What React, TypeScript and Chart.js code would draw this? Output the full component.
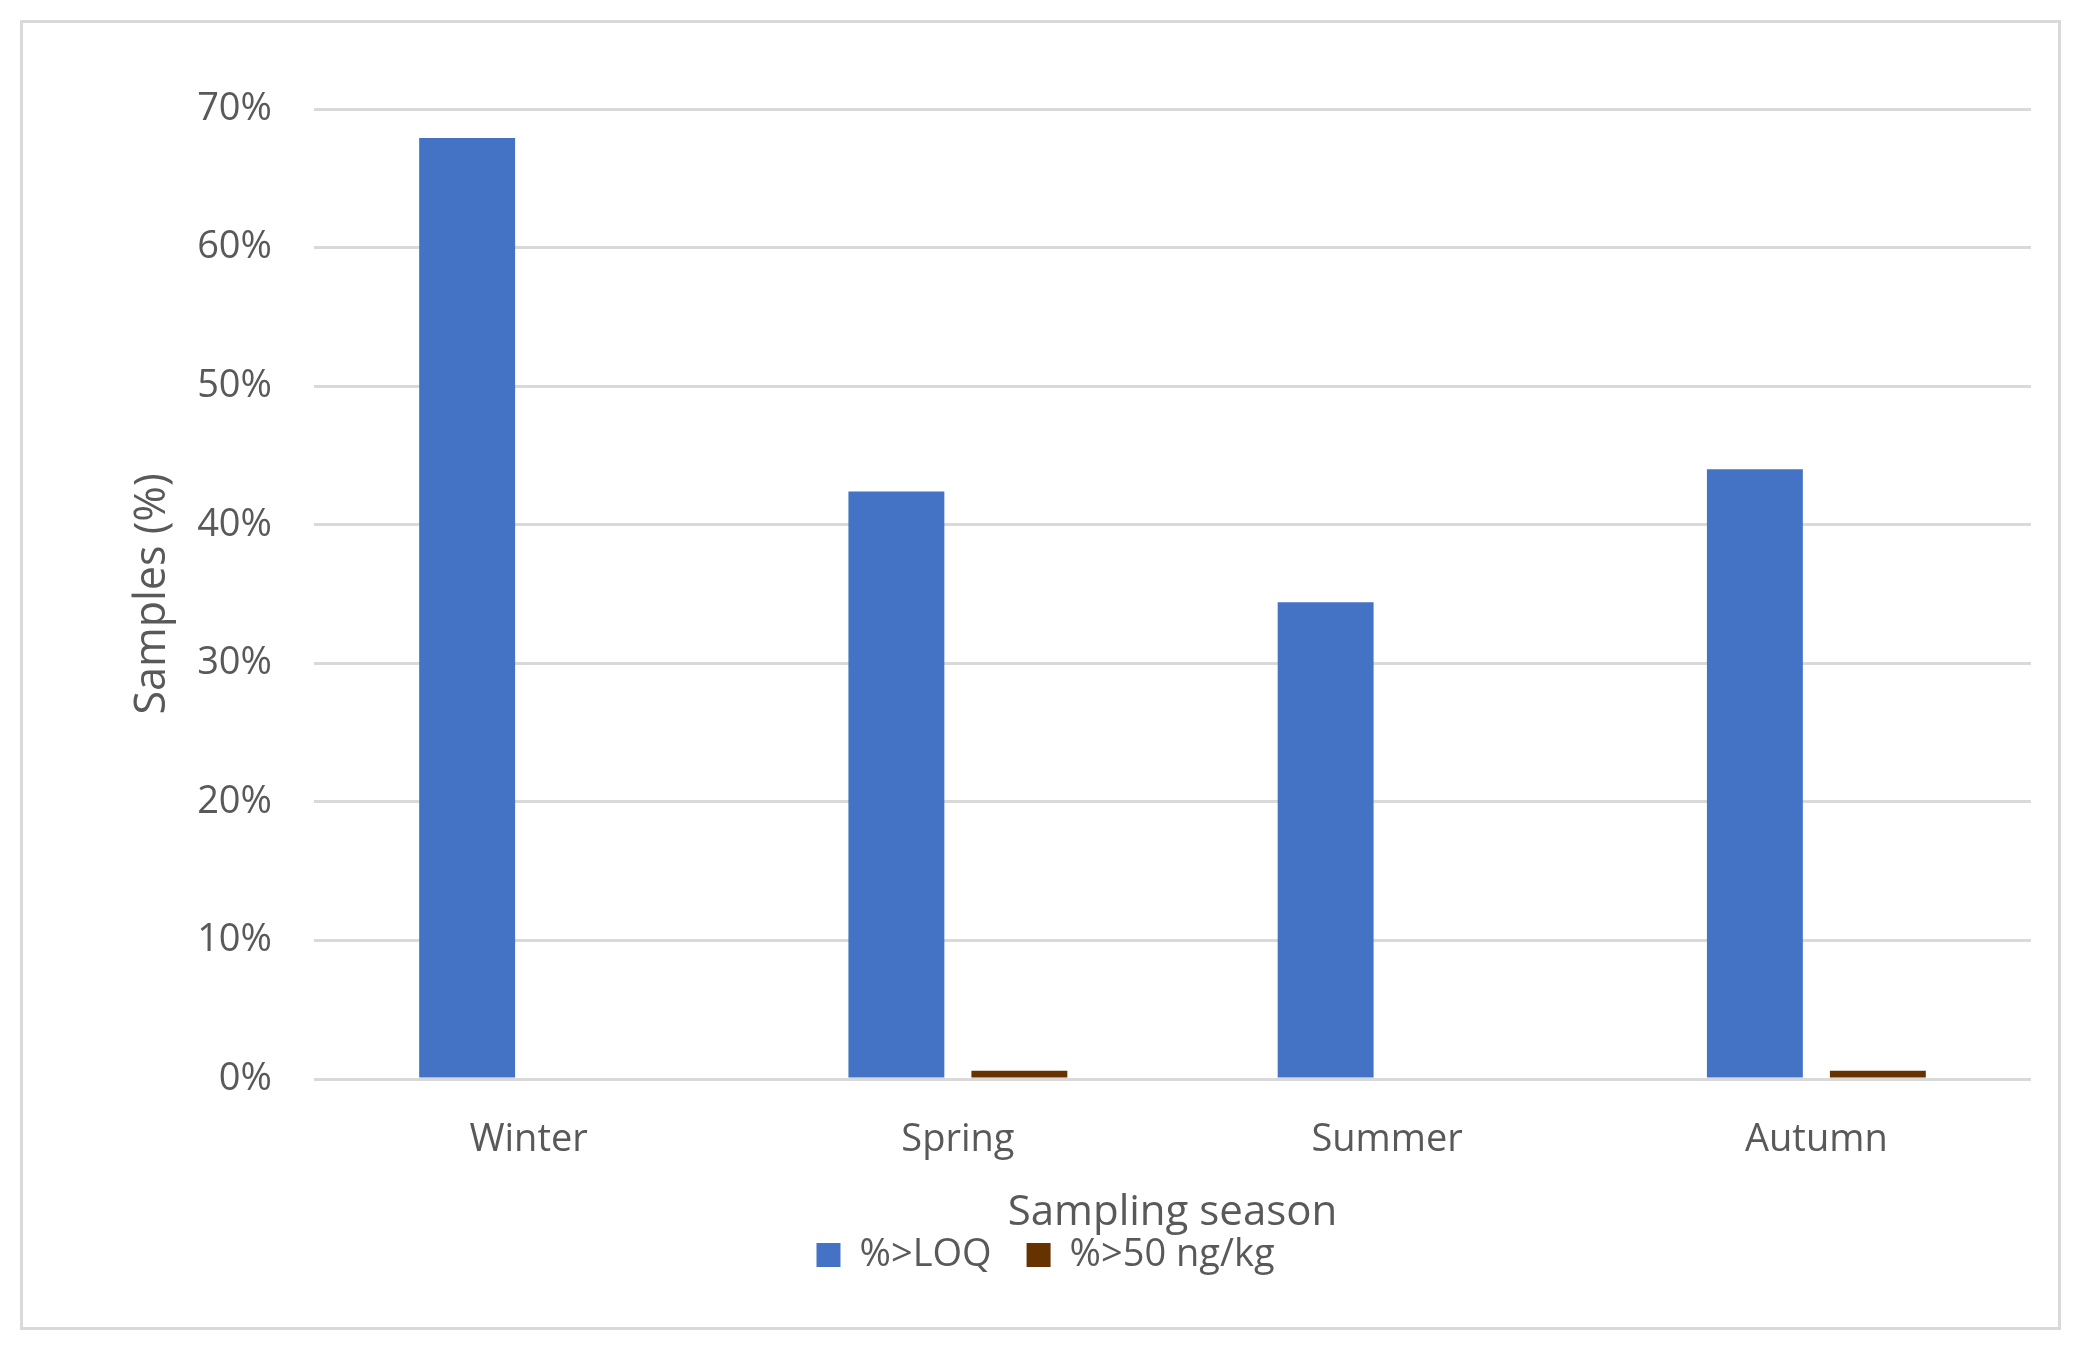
import React, { useEffect, useRef } from "react";
import { Chart, registerables } from "chart.js";

Chart.register(...registerables);

const categories = ["Winter", "Spring", "Summer", "Autumn"];
const seriesNames = ["%>LOQ", "%>50 ng/kg"];
const loqValues = [67.9, 42.4, 34.4, 44.0];
const over50Values = [0, 0.6, 0, 0.6];
const seriesColors = ["#4472C4", "#663300"];
const yTickMax = 70;
const yTickStep = 10;
const xAxisTitle = "Sampling season";
const yAxisTitle = "Samples (%)";

const TEXT = "#595959";
const GRID = "#D9D9D9";
const FONT = "'Open Sans', 'Noto Sans', sans-serif";

export default function App() {
  const ref = useRef<HTMLCanvasElement | null>(null);

  useEffect(() => {
    document.body.style.margin = "0";
    const canvas = ref.current;
    if (!canvas) return;
    const chart = new Chart(canvas, {
      type: "bar",
      data: {
        labels: categories,
        datasets: [
          {
            label: seriesNames[0],
            data: loqValues,
            backgroundColor: seriesColors[0],
            borderWidth: 0,
            categoryPercentage: 0.573,
            barPercentage: 0.78,
          },
          {
            label: seriesNames[1],
            data: over50Values,
            backgroundColor: seriesColors[1],
            borderWidth: 0,
            categoryPercentage: 0.573,
            barPercentage: 0.78,
          },
        ],
      },
      options: {
        responsive: false,
        devicePixelRatio: 1,
        animation: false,
        layout: { padding: { left: 60, right: 49, top: 109, bottom: 66 } },
        plugins: {
          tooltip: { enabled: false },
          legend: {
            position: "bottom",
            labels: {
              boxWidth: 24,
              boxHeight: 24,
              padding: 35,
              color: TEXT,
              font: { family: FONT, size: 38 },
            },
          },
        },
        scales: {
          x: {
            grid: { display: false },
            border: { display: false },
            ticks: {
              color: TEXT,
              padding: 30,
              font: { family: FONT, size: 38 },
            },
            title: {
              display: true,
              text: xAxisTitle,
              color: TEXT,
              font: { family: FONT, size: 42 },
              padding: { top: 0, bottom: -37 },
            },
            afterFit: (s: any) => {
              s.height = 122;
            },
          },
          y: {
            min: 0,
            max: yTickMax,
            grid: { color: GRID, lineWidth: 3, drawTicks: false },
            border: { display: false },
            ticks: {
              stepSize: yTickStep,
              color: TEXT,
              padding: 42,
              font: { family: FONT, size: 38 },
              callback: (v: any) => `${v}%`,
            },
            title: {
              display: true,
              text: yAxisTitle,
              color: TEXT,
              font: { family: FONT, size: 43 },
              padding: { top: 67, bottom: 0 },
            },
            afterFit: (s: any) => {
              s.width = 254;
            },
          },
        },
      },
    });
    return () => chart.destroy();
  }, []);

  return (
    <div style={{ position: "relative", width: 2080, height: 1350, background: "#fff" }}>
      <div
        style={{
          position: "absolute",
          left: 20,
          top: 20,
          width: 2041,
          height: 1310,
          boxSizing: "border-box",
          border: `3px solid ${GRID}`,
        }}
      />
      <canvas
        ref={ref}
        width={2080}
        height={1350}
        style={{ position: "absolute", left: 0, top: 0, width: 2080, height: 1350 }}
      />
    </div>
  );
}
